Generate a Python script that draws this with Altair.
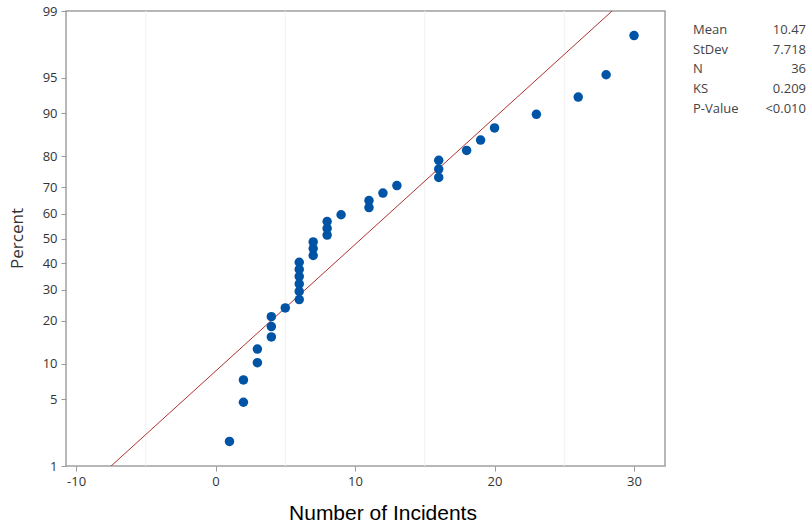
import altair as alt
import pandas as pd
from statistics import NormalDist

# ---- data ----
incidents = [1, 2, 2, 3, 3, 4, 4, 4, 5, 6, 6, 6, 6, 6, 6, 7, 7, 7, 8, 8, 8, 9,
             11, 11, 12, 13, 16, 16, 16, 18, 19, 20, 23, 26, 28, 30]
percent = [1.9, 4.7, 7.4, 10.2, 12.9, 15.7, 18.4, 21.2, 23.9, 26.6, 29.4, 32.1,
           34.9, 37.6, 40.4, 43.1, 45.9, 48.6, 51.4, 54.1, 56.9, 59.6, 62.4, 65.1,
           67.9, 70.6, 73.4, 76.1, 78.8, 81.6, 84.3, 87.1, 89.8, 92.6, 95.3, 98.1]
y_ticks = [1, 5, 10, 20, 30, 40, 50, 60, 70, 80, 90, 95, 99]
x_ticks = [-10, 0, 10, 20, 30]
grid_x = [-5, 5, 15, 25]
stat_names = ["Mean", "StDev", "N", "KS", "P-Value"]
stat_values = ["10.47", "7.718", "36", "0.209", "<0.010"]
mean = 10.47
stdev = 7.718
x_domain = [-10.72, 32.22]

nd = NormalDist()
z = lambda p: nd.inv_cdf(p / 100.0)
y_domain = [z(1), z(99)]

pts = pd.DataFrame({"x": incidents, "p": percent, "z": [z(p) for p in percent]})
fit = pd.DataFrame({"x": x_domain, "z": [(v - mean) / stdev for v in x_domain]})
grid = pd.DataFrame({"x": grid_x})
stats = pd.DataFrame({"names": ["\n".join(stat_names)], "vals": ["\n".join(stat_values)]})
one = pd.DataFrame({"t": [""]})

xscale = alt.Scale(domain=x_domain, nice=False, zero=False)
yscale = alt.Scale(domain=y_domain, nice=False, zero=False)

xaxis = alt.Axis(values=x_ticks, title=None, grid=False, domain=False,
                 tickColor="#999999", tickSize=5, labelFont="Open Sans",
                 labelFontSize=13, labelColor="#333333", labelPadding=4,
                 labelExpr="replace(datum.label, '\u2212', '-')")
yaxis = alt.Axis(values=[z(p) for p in y_ticks], title=None, grid=False, domain=False,
                 tickColor="#999999", tickSize=5, labelFont="Open Sans",
                 labelFontSize=13, labelColor="#333333", labelPadding=4,
                 labelExpr="round(100*cumulativeNormal(datum.value))")

gridlines = alt.Chart(grid).mark_rule(color="#f0f0f0", strokeWidth=1).encode(
    x=alt.X("x:Q", scale=xscale, axis=xaxis)
)

line = alt.Chart(fit).mark_line(color="#B03030", strokeWidth=1, clip=True).encode(
    x=alt.X("x:Q", scale=xscale, axis=xaxis),
    y=alt.Y("z:Q", scale=yscale, axis=yaxis),
)

points = alt.Chart(pts).mark_circle(size=90, color="#0054A6", opacity=1).encode(
    x=alt.X("x:Q", scale=xscale, axis=xaxis),
    y=alt.Y("z:Q", scale=yscale, axis=yaxis),
)

labels = alt.Chart(stats).mark_text(
    align="left", baseline="alphabetic", lineBreak="\n", lineHeight=19.7,
    font="Open Sans", fontSize=13, color="#444444"
).encode(text="names:N", x=alt.value(627), y=alt.value(23))

values = alt.Chart(stats).mark_text(
    align="right", baseline="alphabetic", lineBreak="\n", lineHeight=19.7,
    font="Open Sans", fontSize=13, color="#444444"
).encode(text="vals:N", x=alt.value(740), y=alt.value(23))

xtitle = alt.Chart(one).mark_text(
    align="center", baseline="middle", font="Liberation Sans", fontSize=21, color="#000000"
).encode(text=alt.value("Number of Incidents"), x=alt.value(317), y=alt.value(503))

ytitle = alt.Chart(one).mark_text(
    align="center", baseline="middle", angle=270, font="Open Sans", fontSize=17, color="#333333"
).encode(text=alt.value("Percent"), x=alt.value(-48), y=alt.value(227.5))

chart = alt.layer(gridlines, line, points, labels, values, xtitle, ytitle).properties(
    width=599, height=455,
    autosize=alt.AutoSizeParams(type="none"),
    padding={"left": 66, "top": 11, "right": 143, "bottom": 60},
    background="white",
).configure_view(stroke="#a0a0a0", strokeWidth=1.5)

chart.save("out.html", embed_options={"renderer": "svg", "actions": False})
